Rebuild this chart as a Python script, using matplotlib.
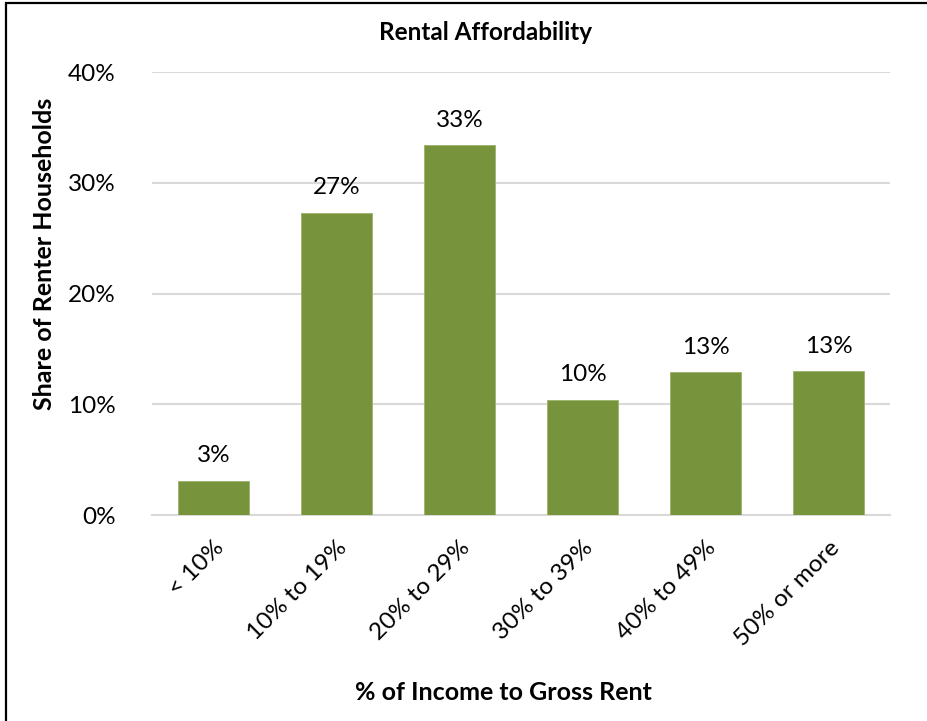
import numpy as np
import matplotlib.pyplot as plt
from matplotlib.patches import Rectangle
from matplotlib.ticker import FuncFormatter

# rent burden buckets and share of renter households
categories = ['< 10%', '10% to 19%', '20% to 29%', '30% to 39%', '40% to 49%', '50% or more']
shares = [3.1, 27.3, 33.4, 10.4, 12.9, 13.0]

plt.rcParams['font.family'] = ['Lato', 'DejaVu Sans']

fig = plt.figure(figsize=(9.28, 7.21), dpi=100)
ax = fig.add_axes([0.1638, 0.2857, 0.7953, 0.6144])

x = np.arange(len(categories))
bars = ax.bar(x, shares, width=0.57, color='#77933c', edgecolor='#9bb36a', linewidth=0.6, zorder=3)

for b, v in zip(bars, shares):
    ax.text(b.get_x() + b.get_width() / 2, v + 1.3, f'{v:.0f}%', ha='center', va='bottom', fontsize=17.5)

ax.set_xlim(-0.5, len(categories) - 0.5)
ax.set_ylim(0, 40)
ax.set_yticks([0, 10, 20, 30, 40])
ax.yaxis.set_major_formatter(FuncFormatter(lambda v, _: f'{v:.0f}%'))
ax.grid(axis='y', color='#d9d9d9', linewidth=1.5, zorder=0)
ax.set_xticks(x)
ax.set_xticklabels(categories, rotation=45, ha='right', va='top', rotation_mode='anchor')
ax.tick_params(axis='both', length=0, labelsize=17.5)
ax.tick_params(axis='x', pad=16)
ax.tick_params(axis='y', pad=26)
for s in ['top', 'right', 'left']:
    ax.spines[s].set_visible(False)
ax.spines['bottom'].set_color('#d9d9d9')
ax.spines['bottom'].set_linewidth(1.5)

fig.text(0.5235, 1 - 33 / 721, 'Rental Affordability', ha='center', va='center', fontsize=17.5, fontweight='bold')
fig.text(45 / 928, 1 - 254 / 721, 'Share of Renter Households', ha='center', va='center', rotation=90,
         fontsize=18, fontweight='bold')
fig.text(0.5425, 1 - 692 / 721, '% of Income to Gross Rent', ha='center', va='center', fontsize=18, fontweight='bold')

# outer frame
fig.patches.append(Rectangle((6 / 928, -0.1), 1.2, 1.1 - 3 / 721, transform=fig.transFigure,
                             fill=False, edgecolor='black', linewidth=1.6))

fig.savefig('out.png', dpi=100)
